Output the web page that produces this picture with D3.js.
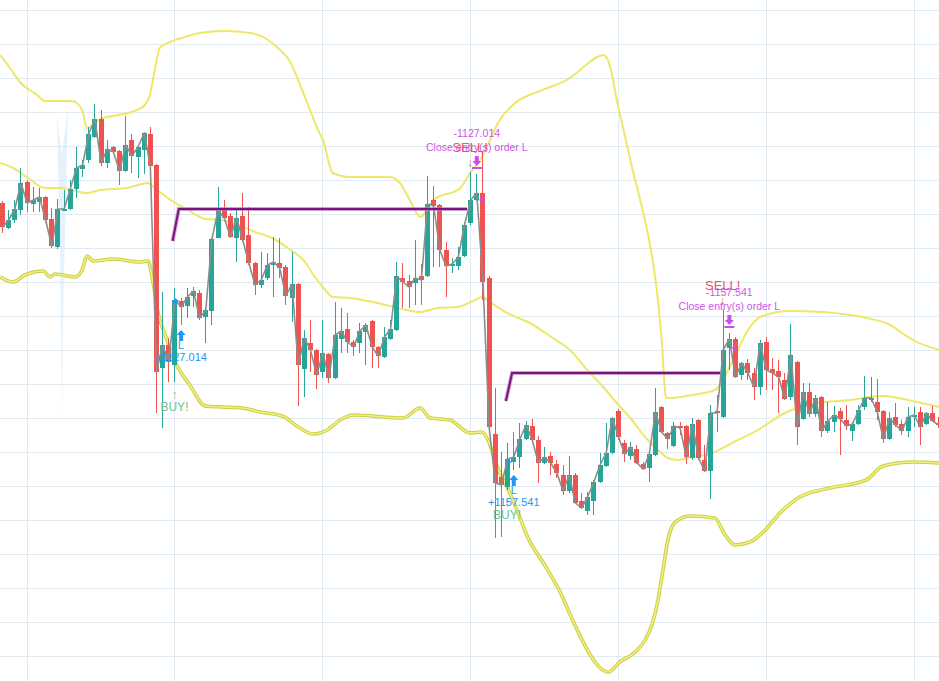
<!DOCTYPE html>
<html><head><meta charset="utf-8">
<script src="https://cdn.jsdelivr.net/npm/d3@7"></script>
<style>html,body{margin:0;padding:0;background:#fff;overflow:hidden}</style>
</head><body><svg id="chart" width="939" height="681"></svg>
<script>
// ---------- DATA ----------
const openP = [497,472,480,490,518,496,498,503,481,453, 489,491,511,531,540,563,581,537,553,549,
 529,560,543,550,566,535,332,355,335,399, 394,404,407,383,389,462,490,484,462,484,
 465,437,415,422,435,437,433,402,416,331, 357,350,328,346,322,361,371,358,357,368,
 379,353,343,361,370,422,419,417,424,424, 500,495,450,434,434,444,477,500,507,422,
 266,223,213,238,243,261,274,260,237,244, 236,225,209,225,199,189,199,218,234,247,
 289,257,244,251,236,232,245,293,267,254, 274,274,242,280,240,229,289,283,352,361,
 325,337,327,313,358,331,329,320,303,338, 281,308,286,303,269,278,289,280,269,276,
 293,300,298,289,261,283,276,269,283,288, 276,287,277];
const highP = [499,490,500,532,520,513,512,504,492,501, 510,520,553,540,573,596,590,560,554,550,
 584,566,555,568,573,536,408,362,412,402, 412,413,410,392,462,513,500,487,491,507,
 493,438,448,447,463,462,435,448,417,370, 380,351,380,347,398,392,387,360,377,377,
 380,354,373,380,438,437,425,460,436,524, 514,496,458,442,453,477,528,526,548,424,
 312,248,257,268,277,279,281,264,253,248, 240,235,244,227,207,208,220,247,277,283,
 291,260,258,255,238,250,312,294,268,278, 278,275,282,281,255,295,305,390,367,363,
 338,341,332,360,363,342,340,327,376,339, 317,317,305,304,298,294,292,295,278,295,
 324,323,321,290,288,297,280,293,293,293, 288,294,283];
const lowP = [467,471,477,485,488,488,488,477,452,451, 489,490,502,523,537,562,534,532,547,515,
 528,527,522,526,533,287,272,318,318,375, 382,393,380,357,375,462,480,462,438,458,
 435,405,412,420,403,422,395,378,294,303, 328,311,322,317,321,347,347,344,347,335,
 332,332,342,360,369,392,392,395,395,423, 433,433,403,427,430,443,475,499,400,272,
 162,163,210,230,232,260,259,217,236,225, 222,205,207,196,191,185,185,217,233,246,
 260,238,240,236,230,218,244,267,251,253, 265,236,240,240,228,201,268,282,330,322,
 320,320,300,305,310,310,287,300,300,255, 280,283,283,263,267,268,245,270,259,275,
 290,298,280,257,260,273,265,263,273,255, 275,278,272];
const closeP = [473,480,491,517,497,500,503,480,454,491, 491,511,532,535,566,581,537,551,548,529,
 555,544,553,567,534,328,355,338,400,393, 403,409,382,390,461,490,482,463,482,460,
 437,415,420,435,438,432,404,416,335,362, 350,325,347,322,365,369,358,353,369,375,
 353,344,363,371,424,418,413,422,420,496, 494,450,434,436,443,475,500,507,418,273,
 217,215,241,243,261,275,260,237,243,237, 227,209,225,197,192,203,218,235,247,282,
 263,246,253,237,231,246,288,268,261,274, 272,243,276,242,229,287,287,350,361,323,
 337,327,313,357,330,327,323,301,345,273, 308,286,302,269,279,285,281,274,276,290,
 302,302,288,261,282,275,269,283,285,273, 287,279,275];

// Bollinger band vertices: [bar index, price]
const upperBand = [[-0.3,645],[1.3,632],[2.9,618],[5.7,605],[7,599],[11.4,599],[13,590],[13.8,572],[15.9,581],[18,584],
 [21.9,590],[23.2,595],[24,605],[24.8,630],[25.6,652],[27.3,658],[29.7,663],[32.1,667],[36.2,669],[40.3,667],
 [42.7,662],[44.8,652],[46.8,638],[48.4,615],[50,590],[51.3,570],[52.1,560],[53.7,527],[56.5,523],[63,523],
 [64.6,517],[66.2,500],[67.9,483],[70,500],[74.4,512],[76,527],[77.9,543],[80.8,580],[83.3,597],[87.3,609],
 [92.2,622],[94.8,635],[96.6,643],[97.6,645],[98.3,641],[99,626],[99.8,600],[101.1,565],[102.3,532],[103.6,500],
 [105.2,455],[106.3,410],[107.1,360],[107.8,302],[112,305],[115.7,310],[118.7,340],[121.1,370],[123.1,383],[127.9,389],
 [133.3,388],[137.7,385],[140.4,382],[144.2,375],[146.6,365],[147.9,360],[152.2,350]];
const middleBand = [[-0.3,537],[1.8,532],[4.2,522],[7,512],[9.4,512],[13.8,507],[15.9,510],[20.3,512],[23.7,517],[24.8,512],
 [28.1,497],[30.2,490],[33,481],[35.7,480],[38.3,475],[41.1,468],[43.8,462],[46.4,452],[49.2,438],[50.8,423],
 [52.1,413],[53.7,403],[56.5,402],[60.9,397],[65.7,390],[67.9,388],[70.6,392],[73.9,393],[76.8,400],[77.9,403],
 [79.2,398],[82,387],[85.7,377],[89.4,362],[92.2,350],[95,330],[97.6,313],[99.8,297],[102,282],[104.4,263],
 [106.5,250],[108.1,242],[109.7,240],[112,243],[115.3,247],[118.5,257],[122.7,270],[127.1,287],[132.3,297],[137.7,300],
 [143,304],[148.5,298],[152.2,293]];
const lowerBand = [[-0.3,423],[1.8,418],[3.7,425],[6.7,429],[7.8,423],[8.6,426],[11.9,423],[13,430],[13.8,444],[14.8,439],
 [18,441],[22.4,438],[23.7,439],[24.5,418],[25.3,388],[26.5,365],[28.1,338],[30.5,315],[33,294],[35.7,293],
 [39,292],[41.9,288],[45.5,284],[48.1,273],[50.5,266],[52.8,270],[54.9,280],[57,285],[65.1,282],[67.9,292],
 [69.5,282],[72.7,280],[76,267],[77.9,268],[78.9,260],[80.4,233],[82,213],[83.6,190],[85.4,162],[88.1,135],
 [90.6,108],[93,75],[95.5,45],[97.1,32],[98.4,28],[100.3,38],[102.8,48],[104.4,60],[105.5,75],[106.5,100],
 [107.3,130],[108.1,160],[109.3,178],[111.7,184],[115.7,182],[117.4,165],[119,155],[121.4,158],[123.9,170],[126.3,187],
 [129.5,203],[134.4,212],[140.3,220],[143,234],[147.9,238],[152.2,237]];

// Strategy level lines: [bar index, price]
const levelLine1 = [[27.7,459],[28.7,491],[75.5,491]];
const levelLine2 = [[81.8,299],[82.8,327],[116.6,327]];
// faint highlight shape
const glowShape = [[8.9,585],[9.7,545],[10.7,592],[10.3,480],[9.95,400],[9.75,282],[9.55,400],[9.3,480]];

// Trades
const tradeSignalBars = [28, 82];
const tradeFillBars = [29, 83];
const exitSignalBars = [76, 117];
const exitFillBars = [77, 118];
const tradeProfits = ["1127.014", "1157.541"];

// Grid tick values
const priceGrid = [44,78,112,146,180,214,248,282,316,350,384,418,452,486,520,554,588,622,656,690];
const timeGrid = [4,28,52,76,100,124,148];

// ---------- CHART ----------
const W = 939, H = 681;
const svg = d3.select("#chart");
const xScale = d3.scaleLinear().domain([0,152]).range([2, 938.3]);
const yScale = d3.scaleLinear().domain([0,700]).range([700,0]);
const FONT = "'Liberation Sans', Arial, sans-serif";

// grid
const g0 = svg.append("g");
g0.selectAll(".hg").data(priceGrid).enter().append("line")
  .attr("x1",0).attr("x2",W)
  .attr("y1",d=>Math.round(yScale(d))+0.5).attr("y2",d=>Math.round(yScale(d))+0.5)
  .attr("stroke","#e0eaf2").attr("stroke-width",1);
g0.selectAll(".vg").data(timeGrid).enter().append("line")
  .attr("y1",0).attr("y2",H)
  .attr("x1",d=>Math.round(xScale(d))+0.5).attr("x2",d=>Math.round(xScale(d))+0.5)
  .attr("stroke","#e0eaf2").attr("stroke-width",1);

// glow
svg.append("path")
  .attr("d", d3.line().x(d=>xScale(d[0])).y(d=>yScale(d[1]))(glowShape)+"Z")
  .attr("fill","#d4e8fa").attr("opacity",0.6);

// bands
const bandLine = d3.line().x(d=>xScale(d[0])).y(d=>yScale(d[1])).curve(d3.curveMonotoneX);
svg.append("path").attr("d",bandLine(lowerBand)).attr("fill","none")
  .attr("stroke","#c9cf48").attr("stroke-width",3.6).attr("stroke-linejoin","round");
svg.append("path").attr("d",bandLine(lowerBand)).attr("fill","none")
  .attr("stroke","#f3ef7c").attr("stroke-width",1.6).attr("stroke-linejoin","round");
[upperBand, middleBand].forEach(b=>{
  svg.append("path").attr("d",bandLine(b)).attr("fill","none")
    .attr("stroke","#eee76a").attr("stroke-width",2).attr("stroke-linejoin","round");
});

// candles
const idx = d3.range(openP.length);
const cg = svg.append("g");
idx.forEach(i=>{
  const up = closeP[i] >= openP[i];
  const col = up ? "#26a69a" : "#ef5350";
  const cx = Math.round(xScale(i));
  cg.append("rect").attr("x",cx).attr("width",1)
    .attr("y",yScale(highP[i])).attr("height",Math.max(1,yScale(lowP[i])-yScale(highP[i])))
    .attr("fill",col);
  const top = yScale(Math.max(openP[i],closeP[i]));
  const bot = yScale(Math.min(openP[i],closeP[i]));
  cg.append("rect").attr("x",cx-2).attr("width",5)
    .attr("y",top).attr("height",Math.max(1,bot-top)).attr("fill",col);
});

// close line
svg.append("path")
  .attr("d", d3.line().x(i=>xScale(i)+0.5).y(i=>yScale(closeP[i]))(idx))
  .attr("fill","none").attr("stroke","#8d8d8d").attr("stroke-width",1.6).attr("stroke-linejoin","round");

// level lines
const lvl = d3.line().x(d=>xScale(d[0])).y(d=>yScale(d[1]));
[levelLine1, levelLine2].forEach(l=>{
  svg.append("path").attr("d",lvl(l)).attr("fill","none").attr("stroke","#b77bb7")
    .attr("stroke-width",4).attr("opacity",0.7);
  svg.append("path").attr("d",lvl(l)).attr("fill","none").attr("stroke","#7d1380")
    .attr("stroke-width",2);
});

// annotations
const ag = svg.append("g").attr("font-family",FONT);
function txt(x,y,s,size,color,anchor){
  ag.append("text").attr("x",x).attr("y",y).attr("text-anchor",anchor||"middle")
    .attr("font-size",size).attr("fill",color).text(s);
}
tradeSignalBars.forEach((sb,k)=>{
  const fb = tradeFillBars[k], eb = exitSignalBars[k], xb = exitFillBars[k];
  // BUY signal
  const sx = xScale(sb), sLow = yScale(lowP[sb]);
  txt(sx, sLow+17, "↑", 12, "#6cc08e");
  txt(sx, sLow+29, "BUY!", 12, "#6cc08e");
  // entry fill
  const fx = xScale(fb)+0.5, fLow = yScale(lowP[fb]), fOpen = yScale(openP[fb]);
  ag.append("path").attr("d",`M${fx-7},${fOpen-3.5} L${fx-2},${fOpen} L${fx-7},${fOpen+3.5} Z`).attr("fill","#2196f3");
  const at = fLow+5;
  ag.append("path").attr("d",`M${fx},${at} L${fx+4.5},${at+5} L${fx+2},${at+5} L${fx+2},${at+11} L${fx-2},${at+11} L${fx-2},${at+5} L${fx-4.5},${at+5} Z`).attr("fill","#2196f3");
  txt(fx, fLow+24, "L", 11, "#2196f3");
  txt(fx, fLow+36, "+"+tradeProfits[k], 11, "#2196f3");
  // exit fill
  const ex = xScale(xb)+0.5, eHigh = yScale(highP[xb]), eOpen = yScale(openP[xb]);
  ag.append("path").attr("d",`M${ex+7},${eOpen-3.5} L${ex+2},${eOpen} L${ex+7},${eOpen+3.5} Z`).attr("fill","#d04ee8");
  const bt = eHigh-18;
  ag.append("path").attr("d",`M${ex-2},${bt} L${ex+2},${bt} L${ex+2},${bt+5} L${ex+4.5},${bt+5} L${ex},${bt+10} L${ex-4.5},${bt+5} L${ex-2},${bt+5} Z`).attr("fill","#d04ee8");
  ag.append("rect").attr("x",ex-5).attr("y",eHigh-7).attr("width",10).attr("height",2).attr("fill","#d04ee8");
  txt(ex, eHigh-23, "Close entry(s) order L", 10.5, "#cc55ea");
  txt(ex, eHigh-37, "-"+tradeProfits[k], 10.5, "#cc55ea");
  // SELL signal
  const qx = xScale(eb), qHigh = yScale(highP[eb]);
  txt(qx, qHigh-6, "↓", 11, "#f0506e");
  txt(qx, qHigh-20, "SELL!", 13, "#f0506e");
});
</script></body></html>
